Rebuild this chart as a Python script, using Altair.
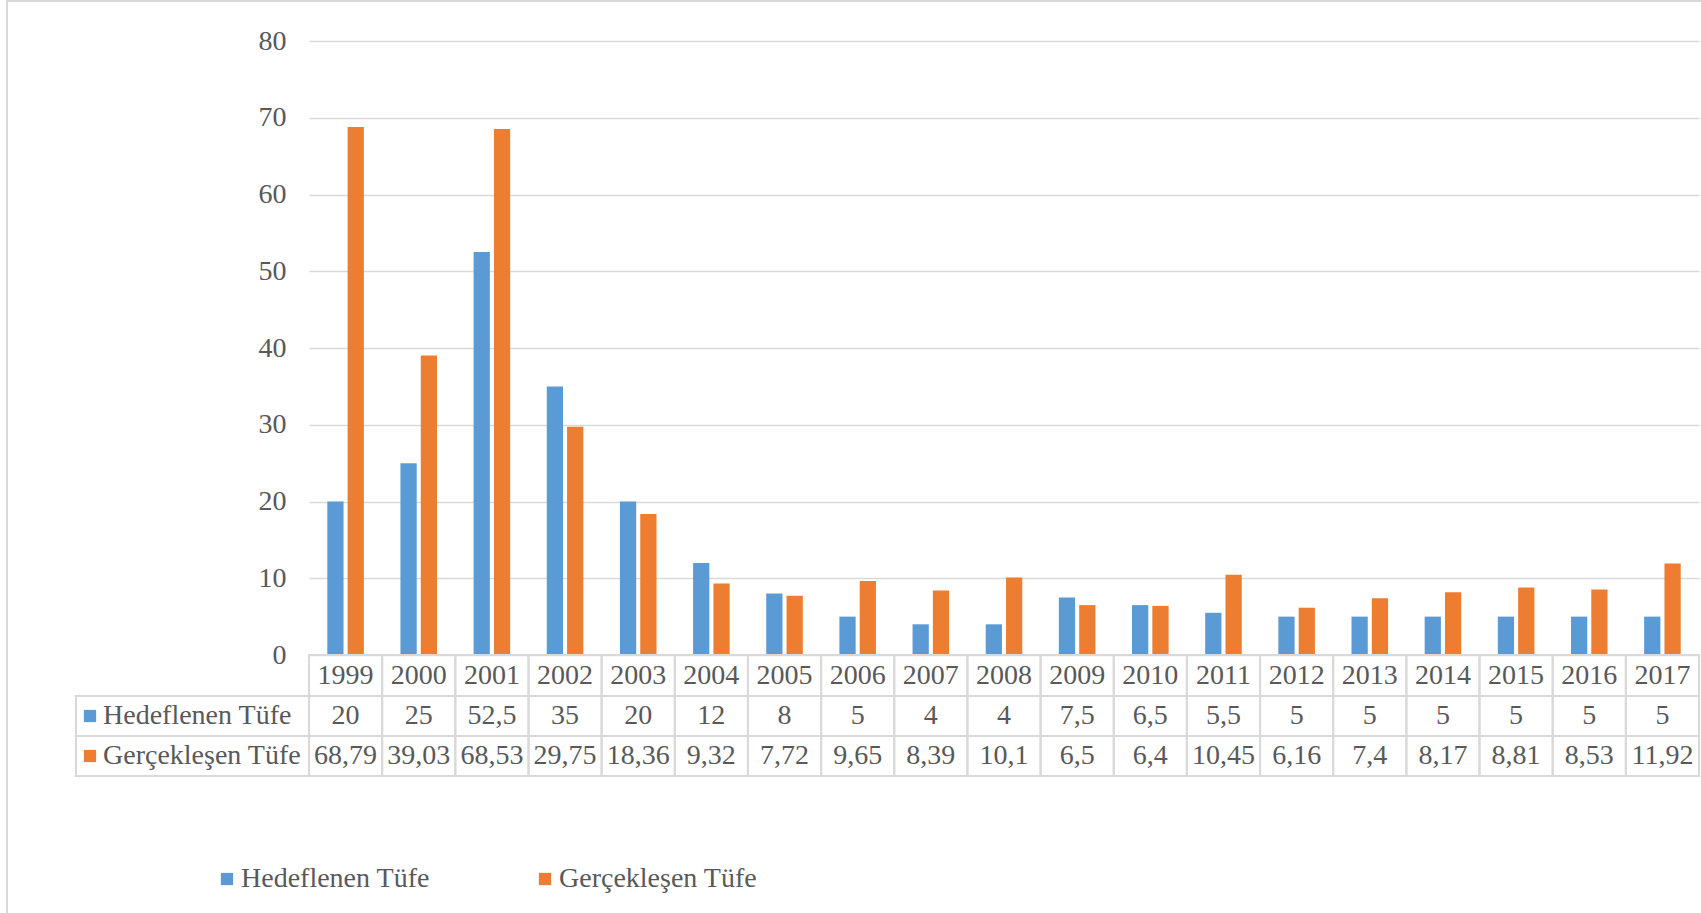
import altair as alt
import pandas as pd

years = [str(y) for y in range(1999, 2018)]
hedef = [20, 25, 52.5, 35, 20, 12, 8, 5, 4, 4, 7.5, 6.5, 5.5, 5, 5, 5, 5, 5, 5]
gercek = [68.79, 39.03, 68.53, 29.75, 18.36, 9.32, 7.72, 9.65, 8.39, 10.1,
          6.5, 6.4, 10.45, 6.16, 7.4, 8.17, 8.81, 8.53, 11.92]
series = ["Hedeflenen Tüfe", "Gerçekleşen Tüfe"]
colors = ["#5B9BD5", "#ED7D31"]
y_ticks = [0, 10, 20, 30, 40, 50, 60, 70, 80]

FONT = "Liberation Serif"
FS = 28
TXT = "#595959"
GRID = "#D9D9D9"

W, H = 1390, 614
R0, R1, R2, R3 = 614, 655, 695, 735   # table row boundaries (relative to plot top)
LEFT = -233                           # left edge of table label column


def fmt(v):
    return f"{v:g}".replace(".", ",")


long = pd.DataFrame(
    [{"Year": y, "Series": series[0], "Value": v} for y, v in zip(years, hedef)]
    + [{"Year": y, "Series": series[1], "Value": v} for y, v in zip(years, gercek)]
)
table = pd.DataFrame({
    "Year": years,
    "h": [fmt(v) for v in hedef],
    "g": [fmt(v) for v in gercek],
})
one = pd.DataFrame({"k": [0]})

xenc = alt.X("Year:N", sort=years, axis=None,
             scale=alt.Scale(paddingInner=0, paddingOuter=0))

bars = alt.Chart(long).mark_bar().encode(
    x=xenc,
    xOffset=alt.XOffset("Series:N", sort=series,
                        scale=alt.Scale(domain=series, paddingInner=0.2, paddingOuter=0.9)),
    y=alt.Y("Value:Q", title=None,
            scale=alt.Scale(domain=[0, 80], nice=False),
            axis=alt.Axis(values=y_ticks, grid=True, gridColor=GRID, gridWidth=1.5,
                          domain=False, ticks=False, labelFont=FONT, labelFontSize=FS,
                          labelColor=TXT, labelPadding=23)),
    color=alt.Color("Series:N", sort=series,
                    scale=alt.Scale(domain=series, range=colors),
                    legend=alt.Legend(orient="none", legendX=-96, legendY=824,
                                      direction="horizontal", title=None,
                                      symbolType="square", symbolSize=150,
                                      symbolStrokeWidth=0, labelFont=FONT,
                                      labelFontSize=FS, labelColor=TXT,
                                      labelLimit=0, labelOffset=0, columnPadding=101)),
)

cell_style = dict(fillOpacity=0, stroke=GRID, strokeWidth=2)

cells = []
for top, bot in [(R0, R1), (R1, R2), (R2, R3)]:
    cells.append(alt.Chart(table).mark_rect(**cell_style).encode(
        x=alt.X("Year:N", sort=years), y=alt.value(top), y2=alt.value(bot)))
for top, bot in [(R1, R2), (R2, R3)]:
    cells.append(alt.Chart(one).mark_rect(**cell_style).encode(
        x=alt.value(LEFT), x2=alt.value(0), y=alt.value(top), y2=alt.value(bot)))

txt_style = dict(font=FONT, fontSize=FS, color=TXT, baseline="middle", align="center")
year_txt = alt.Chart(table).mark_text(**txt_style).encode(
    x=alt.X("Year:N", sort=years), y=alt.value((R0 + R1) / 2), text="Year:N")
h_txt = alt.Chart(table).mark_text(**txt_style).encode(
    x=alt.X("Year:N", sort=years), y=alt.value((R1 + R2) / 2), text="h:N")
g_txt = alt.Chart(table).mark_text(**txt_style).encode(
    x=alt.X("Year:N", sort=years), y=alt.value((R2 + R3) / 2), text="g:N")

row_labels = []
for i, (name, col) in enumerate(zip(series, colors)):
    cy = (R1 + R2) / 2 if i == 0 else (R2 + R3) / 2
    lab = pd.DataFrame({"name": [name]})
    row_labels.append(alt.Chart(lab).mark_square(size=150, color=col, opacity=1).encode(
        x=alt.value(LEFT + 14), y=alt.value(cy)))
    row_labels.append(alt.Chart(lab).mark_text(font=FONT, fontSize=FS, color=TXT,
                                                baseline="middle", align="left").encode(
        x=alt.value(LEFT + 27), y=alt.value(cy), text="name:N"))

border = alt.Chart(one).mark_rect(fillOpacity=0, stroke=GRID, strokeWidth=2).encode(
    x=alt.value(-302), x2=alt.value(W + 40), y=alt.value(-40), y2=alt.value(H + 300))

chart = alt.layer(border, bars, *cells, year_txt, h_txt, g_txt, *row_labels).properties(
    width=W, height=H,
    autosize=alt.AutoSizeParams(type="none"),
    padding={"left": 309, "top": 41, "right": 2, "bottom": 258},
    background="white",
).configure_view(stroke=None)

chart.save("out.html", embed_options={"renderer": "svg", "actions": False})
